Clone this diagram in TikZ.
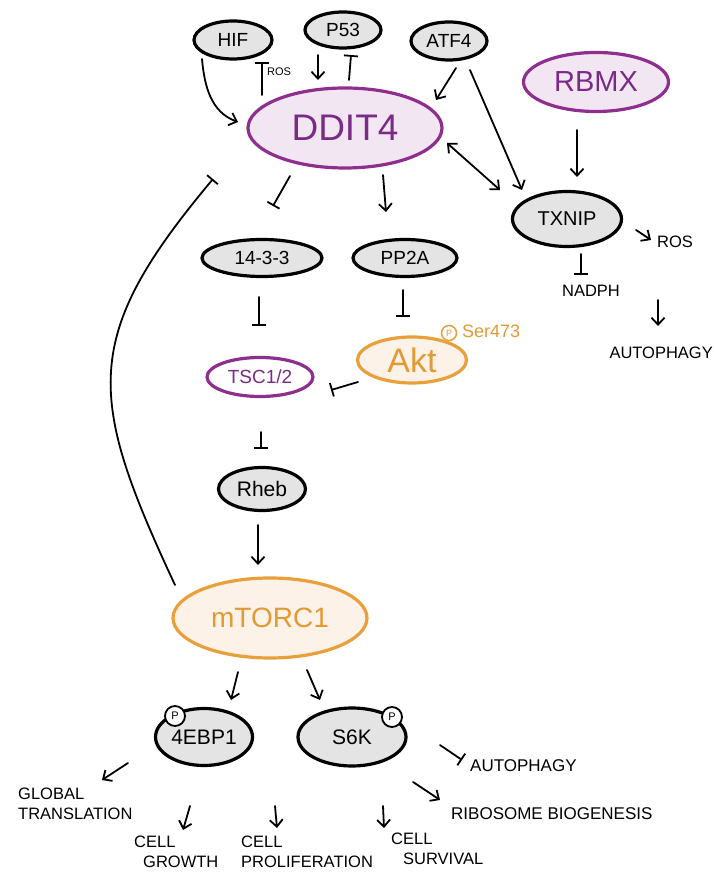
\documentclass[tikz,border=0pt]{standalone}
\usepackage{fontspec}
\setmainfont{Liberation Sans}
\usetikzlibrary{shapes.geometric,arrows.meta,calc}
\definecolor{purB}{HTML}{8E2F90}
\definecolor{purF}{HTML}{F3E6F3}
\definecolor{purT}{HTML}{7A2B85}
\definecolor{orB}{HTML}{E9A03B}
\definecolor{orF}{HTML}{FDF2E7}
\definecolor{orT}{HTML}{E29A35}
\definecolor{grF}{HTML}{E4E4E4}
\tikzset{
  x=1pt,y=1pt,
  gnode/.style={ellipse,draw=black,line width=3.2pt,fill=grF,inner sep=0pt,font=\fontsize{19}{19}\selectfont},
  pnode/.style={ellipse,draw=purB,line width=3.2pt,fill=purF,text=purT,inner sep=0pt},
  onode/.style={ellipse,draw=orB,line width=3.2pt,fill=orF,text=orT,inner sep=0pt},
  act/.style={-{Straight Barb[length=7pt,width=13pt,line width=1.8pt]},line width=1.8pt,line cap=round},
  dact/.style={{Straight Barb[length=7pt,width=13pt,line width=1.8pt]}-{Straight Barb[length=7pt,width=13pt,line width=1.8pt]},line width=1.8pt,line cap=round},
  inh/.style={-{Bar[width=14pt,line width=1.8pt]},line width=1.8pt,line cap=round},
  lbl/.style={font=\fontsize{16.5}{20}\selectfont,align=left,inner sep=0pt},
  pcirc/.style={circle,draw=black,line width=1.8pt,fill=white,minimum size=20pt,inner sep=0pt,font=\fontsize{11}{11}\selectfont},
}
\begin{document}
\begin{tikzpicture}
\useasboundingbox (0,0) rectangle (714,881);
\fill[white] (0,0) rectangle (714,881);
% nodes
\node[gnode,minimum width=78pt,minimum height=38pt] (hif) at (233,841) {HIF};
\node[gnode,minimum width=76pt,minimum height=36pt] (p53) at (343,851) {P53};
\node[gnode,minimum width=76pt,minimum height=38pt] (atf4) at (449,840) {ATF4};
\node[pnode,minimum width=194pt,minimum height=80pt,font=\fontsize{37}{37}\selectfont] (ddit4) at (345,753) {DDIT4};
\node[pnode,minimum width=145pt,minimum height=59pt,font=\fontsize{29}{29}\selectfont] (rbmx) at (596,799) {RBMX};
\node[gnode,minimum width=109pt,minimum height=55pt,font=\fontsize{20}{20}\selectfont] (txnip) at (567,662) {TXNIP};
\node[gnode,minimum width=120pt,minimum height=37pt] (t1433) at (262,623) {14-3-3};
\node[gnode,minimum width=104pt,minimum height=37pt] (pp2a) at (405,623) {PP2A};
\node[onode,minimum width=109pt,minimum height=46pt,font=\fontsize{34}{34}\selectfont] (akt) at (412,521) {Akt};
\node[pnode,minimum width=106pt,minimum height=39pt,fill=white,font=\fontsize{19}{19}\selectfont] (tsc) at (260,504) {TSC1/2};
\node[gnode,minimum width=87pt,minimum height=43pt,font=\fontsize{21}{21}\selectfont] (rheb) at (262,392) {Rheb};
\node[onode,minimum width=194pt,minimum height=80pt,font=\fontsize{28}{28}\selectfont] (mtorc) at (270,263) {mTORC1};
\node[gnode,minimum width=97pt,minimum height=57pt,font=\fontsize{21}{21}\selectfont] (ebp) at (204,144) {4EBP1};
\node[gnode,minimum width=108pt,minimum height=58pt,font=\fontsize{21}{21}\selectfont] (s6k) at (352,144) {S6K};
\node[pcirc] (pebp) at (175,165) {P};
\node[pcirc] (ps6k) at (392,164) {P};
\node[circle,draw=orB,line width=1.5pt,fill=white,minimum size=15pt,inner sep=0pt,text=orT,font=\fontsize{9}{9}\selectfont] (pakt) at (449,548) {P};
\node[text=orT,font=\fontsize{18}{18}\selectfont,anchor=west,inner sep=0pt] (ser) at (462,550) {Ser473};
% labels
\node[lbl,font=\fontsize{11}{11}\selectfont] (rosS) at (279,809) {ROS};
\node[lbl] (ros2) at (675,639) {ROS};
\node[lbl] (nadph) at (591,590) {NADPH};
\node[lbl,anchor=east] (autoR) at (713,528) {AUTOPHAGY};
\node[lbl,font=\fontsize{17}{20}\selectfont,anchor=west] (autoB) at (470,115) {AUTOPHAGY};
\node[lbl,anchor=north west] (glob) at (18,93) {GLOBAL\\TRANSLATION};
\node[lbl,anchor=north west] (growth) at (134,45) {CELL\\\hspace*{9pt}GROWTH};
\node[lbl,anchor=north west] (prolif) at (241,45) {CELL\\PROLIFERATION};
\node[lbl,anchor=north west] (surv) at (391,48) {CELL\\\hspace*{12pt}SURVIVAL};
\node[lbl,font=\fontsize{17}{20}\selectfont,anchor=west] (ribo) at (451,67) {RIBOSOME BIOGENESIS};
% connector end coordinates
\coordinate (c1) at (202,822); \coordinate (c2) at (238,759);
\coordinate (r1) at (262,786); \coordinate (r2) at (262,819);
\coordinate (pa1) at (318,826); \coordinate (pa2) at (318,801);
\coordinate (pi1) at (349,801); \coordinate (pi2) at (351,826);
\coordinate (a1) at (456,813); \coordinate (a2) at (436,781);
\coordinate (a3) at (470,811); \coordinate (a4) at (522,691);
\coordinate (d1) at (447,738); \coordinate (d2) at (500,691);
\coordinate (rb1) at (577,751); \coordinate (rb2) at (577,704);
\coordinate (tr1) at (636,651); \coordinate (tr2) at (651,641);
\coordinate (tn1) at (581,627); \coordinate (tn2) at (581,606);
\coordinate (na1) at (658,581); \coordinate (na2) at (658,555);
\coordinate (di1) at (290,705); \coordinate (di2) at (273,675);
\coordinate (dp1) at (383,706); \coordinate (dp2) at (386,669);
\coordinate (ft1) at (259,584); \coordinate (ft2) at (259,555);
\coordinate (pk1) at (403,591); \coordinate (pk2) at (403,564);
\coordinate (ak1) at (358,499); \coordinate (ak2) at (331,491);
\coordinate (ts1) at (261,449); \coordinate (ts2) at (261,432);
\coordinate (rh1) at (258,356); \coordinate (rh2) at (258,316);
\coordinate (m1) at (175,296); \coordinate (m2) at (213,702);
\coordinate (me1) at (238,209); \coordinate (me2) at (231,181);
\coordinate (ms1) at (307,211); \coordinate (ms2) at (320,181);
\coordinate (sa1) at (440,136); \coordinate (sa2) at (462,121);
\coordinate (sr1) at (413,99); \coordinate (sr2) at (440,81);
\coordinate (eg1) at (128,118); \coordinate (eg2) at (102,101);
\coordinate (gw1) at (190,75); \coordinate (gw2) at (183,51);
\coordinate (pf1) at (275,75); \coordinate (pf2) at (277,53);
\coordinate (sv1) at (383,75); \coordinate (sv2) at (384,53);
% connectors
\draw[act] (c1) to[out=-85,in=160] (c2);
\draw[inh] (r1) -- (r2);
\draw[act] (pa1) -- (pa2);
\draw[inh] (pi1) -- (pi2);
\draw[act] (a1) -- (a2);
\draw[act] (a3) -- (a4);
\draw[dact] (d1) -- (d2);
\draw[act] (rb1) -- (rb2);
\draw[act] (tr1) -- (tr2);
\draw[inh] (tn1) -- (tn2);
\draw[act] (na1) -- (na2);
\draw[inh] (di1) -- (di2);
\draw[act] (dp1) -- (dp2);
\draw[inh] (ft1) -- (ft2);
\draw[inh] (pk1) -- (pk2);
\draw[inh] (ak1) -- (ak2);
\draw[inh] (ts1) -- (ts2);
\draw[act] (rh1) -- (rh2);
\draw[inh] (m1) to[out=115,in=230,looseness=1.3] (m2);
\draw[act] (me1) -- (me2);
\draw[act] (ms1) -- (ms2);
\draw[inh] (sa1) -- (sa2);
\draw[act] (sr1) -- (sr2);
\draw[act] (eg1) -- (eg2);
\draw[act] (gw1) -- (gw2);
\draw[act] (pf1) -- (pf2);
\draw[act] (sv1) -- (sv2);
\end{tikzpicture}
\end{document}
